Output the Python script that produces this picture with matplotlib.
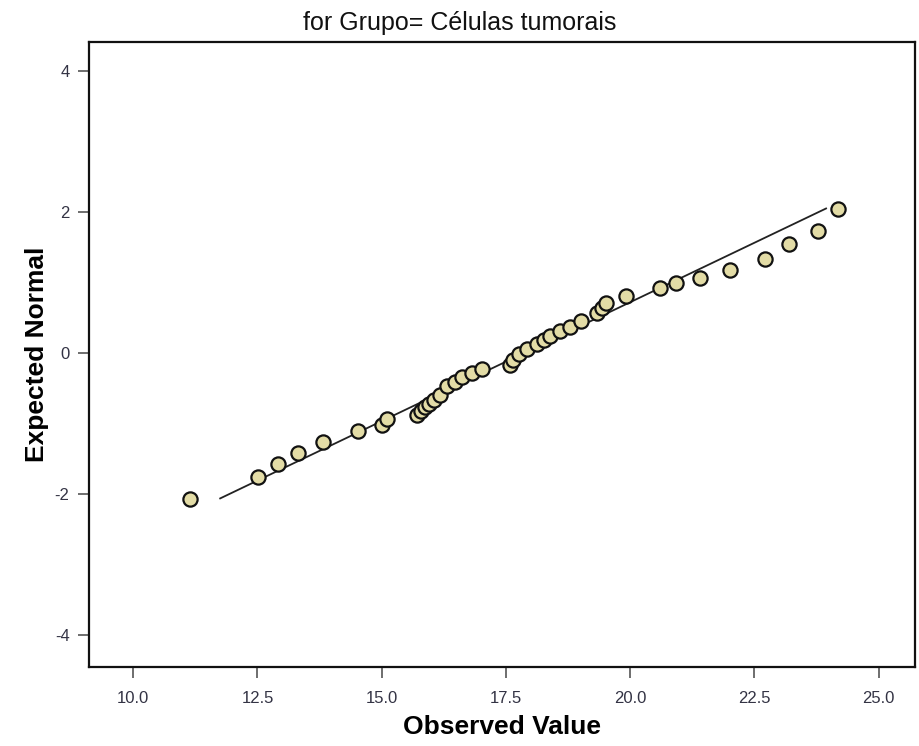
import numpy as np
import matplotlib
matplotlib.use("Agg")
import matplotlib.pyplot as plt

observed = [11.15, 12.52, 12.92, 13.32, 13.82, 14.53, 15.01, 15.11, 15.71, 15.79,
            15.87, 15.96, 16.06, 16.18, 16.32, 16.48, 16.62, 16.82, 17.02, 17.59,
            17.65, 17.77, 17.93, 18.13, 18.27, 18.39, 18.59, 18.79, 19.01, 19.34,
            19.44, 19.52, 19.92, 20.60, 20.93, 21.41, 22.01, 22.72, 23.20, 23.78,
            24.18]
expected = [-2.07, -1.76, -1.57, -1.42, -1.26, -1.11, -1.02, -0.94, -0.88, -0.82,
            -0.77, -0.72, -0.67, -0.60, -0.47, -0.41, -0.34, -0.28, -0.23, -0.17,
            -0.10, -0.01, 0.06, 0.13, 0.18, 0.24, 0.31, 0.37, 0.45, 0.57,
            0.64, 0.71, 0.81, 0.92, 0.99, 1.06, 1.18, 1.33, 1.55, 1.73,
            2.04]

# reference line
line_x = [11.75, 23.94]
line_y = [-2.06, 2.05]

x_ticks = [10.0, 12.5, 15.0, 17.5, 20.0, 22.5, 25.0]
y_ticks = [-4, -2, 0, 2, 4]

title = "for Grupo= Células tumorais"

plt.rcParams["font.family"] = ["Liberation Sans", "DejaVu Sans"]

fig = plt.figure(figsize=(9.2, 7.46), dpi=100)
ax = fig.add_axes([0.0967, 0.1059, 0.8979, 0.8378])

ax.plot(line_x, line_y, color="#222222", linewidth=1.3, zorder=2)
ax.scatter(observed, expected, s=105, facecolor="#e3dca6", edgecolor="#111111",
           linewidth=1.6, zorder=3)

ax.set_xlim(9.11, 25.73)
ax.set_ylim(-4.45, 4.41)
ax.set_xticks(x_ticks)
ax.set_xticklabels(["%.1f" % v for v in x_ticks])
ax.set_yticks(y_ticks)
ax.set_yticklabels([str(v) for v in y_ticks])

for sp in ax.spines.values():
    sp.set_linewidth(1.6)
    sp.set_color("#111111")

ax.tick_params(axis="both", direction="out", length=8, width=1.2, color="#555555",
               labelsize=12, labelcolor="#333344")
ax.tick_params(axis="x", pad=9)
ax.tick_params(axis="y", pad=6)

ax.set_xlabel("Observed Value", fontsize=19, fontweight="bold", labelpad=7)
ax.set_ylabel("Expected Normal", fontsize=19, fontweight="bold", labelpad=4)
fig.text(0.5, 0.9685, title, ha="center", va="center", fontsize=18, color="#111111")

fig.savefig("out.png", dpi=100)
